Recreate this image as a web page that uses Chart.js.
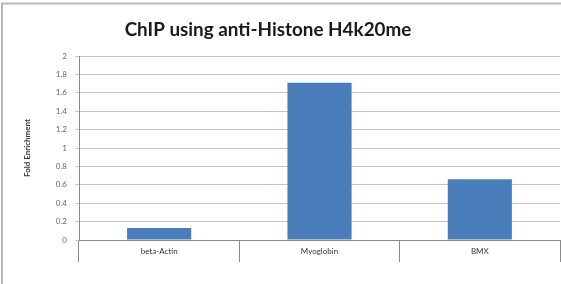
<!DOCTYPE html>
<html><head><meta charset="utf-8">
<script src="https://cdn.jsdelivr.net/npm/chart.js@4/dist/chart.umd.min.js"></script>
<style>html,body{margin:0;padding:0;background:#fff;}#wrap{width:561px;height:284px;position:relative;}</style>
</head><body><div id="wrap"><canvas id="c" width="561" height="284"></canvas></div>
<script>
const categories = ['beta-Actin', 'Myoglobin', 'BMX'];
const foldEnrichment = [0.13, 1.71, 0.66];
const yTicks = ['0','0.2','0.4','0.6','0.8','1','1.2','1.4','1.6','1.8','2'];
const chartTitle = 'ChIP using anti-Histone H4k20me';
const yTitle = 'Fold Enrichment';

const framePlugin = {
  id: 'frame',
  beforeDraw(chart) {
    const ctx = chart.ctx;
    ctx.save();
    ctx.fillStyle = '#fff';
    ctx.fillRect(0, 0, chart.width, chart.height);
    ctx.strokeStyle = '#b8b8b8';
    ctx.lineWidth = 2;
    ctx.beginPath();
    ctx.moveTo(2, chart.height);
    ctx.lineTo(2, 3.5);
    ctx.lineTo(chart.width, 3.5);
    ctx.stroke();
    ctx.restore();
  },
  afterDraw(chart) {
    const ctx = chart.ctx;
    ctx.save();
    ctx.fillStyle = '#1a1a1a';
    ctx.textAlign = 'center';
    ctx.textBaseline = 'middle';
    let size = 17;
    ctx.font = `bold ${size}px Lato, "Open Sans", sans-serif`;
    const w = ctx.measureText(chartTitle).width;
    size = size * 287 / w;
    ctx.font = `bold ${size}px Lato, "Open Sans", sans-serif`;
    ctx.fillText(chartTitle, 268, 30);
    ctx.restore();
  }
};

new Chart(document.getElementById('c'), {
  type: 'bar',
  data: {
    labels: categories,
    datasets: [{
      data: foldEnrichment,
      backgroundColor: '#4a7ebb',
      borderWidth: 0,
      barPercentage: 0.4,
      categoryPercentage: 1.0
    }]
  },
  options: {
    responsive: false,
    animation: false,
    devicePixelRatio: 1,
    layout: { padding: { top: 56, left: 0, right: 1, bottom: 0 } },
    plugins: { legend: { display: false }, title: { display: false }, tooltip: { enabled: false } },
    scales: {
      x: {
        offset: true,
        grid: { display: true, offset: true, drawOnChartArea: false, drawTicks: true, tickLength: 22, color: '#8a8a8a', lineWidth: 1 },
        border: { display: true, color: '#8a8a8a', width: 1 },
        ticks: { padding: -15, color: '#333', font: { family: 'Lato, "Open Sans", sans-serif', size: 8 } },
        afterFit(axis) { axis.height = 44; }
      },
      y: {
        min: 0, max: 2,
        ticks: {
          stepSize: 0.2,
          padding: 8,
          color: '#666',
          font: { family: 'Lato, "Open Sans", sans-serif', size: 8 },
          callback: (v, i) => yTicks[i]
        },
        grid: { color: '#c4c4c4', lineWidth: 1, tickLength: 4 },
        border: { display: true, color: '#8a8a8a', width: 1 },
        title: { display: true, text: yTitle, color: '#333', padding: { top: 23, bottom: 0 }, font: { family: 'Lato, "Open Sans", sans-serif', size: 8, weight: 'bold' } },
        afterFit(axis) { axis.width = 79; }
      }
    }
  },
  plugins: [framePlugin]
});
</script></body></html>
